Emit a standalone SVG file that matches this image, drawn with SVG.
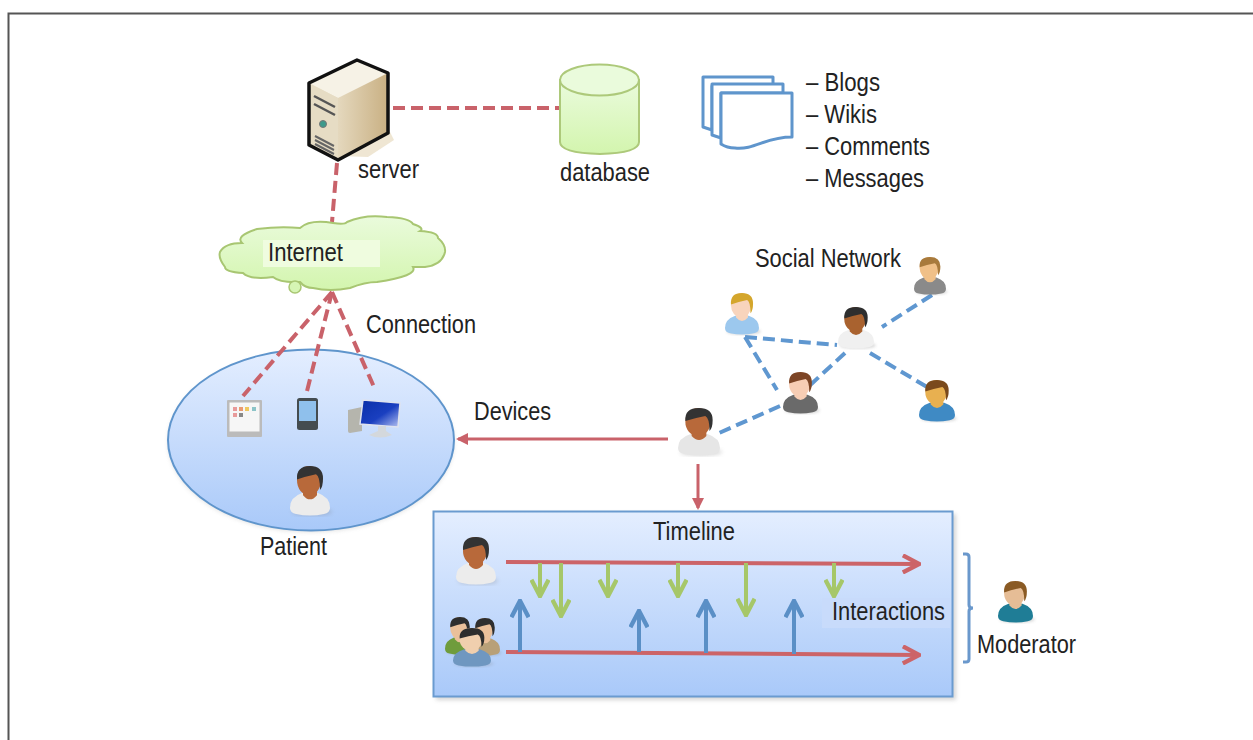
<svg xmlns="http://www.w3.org/2000/svg" width="1253" height="740" viewBox="0 0 1253 740">
<style>
text{font-family:"Liberation Sans",Arial,sans-serif;font-size:25px;fill:#222}
.rd{fill:none;stroke:#c9626a;stroke-width:4;stroke-dasharray:12 6}
.bd{fill:none;stroke:#5f97d0;stroke-width:4;stroke-dasharray:12 6}
.rs{fill:none;stroke:#c9626a;stroke-width:3}
.rt{fill:none;stroke:#cc6468;stroke-width:4}
.g{fill:none;stroke:#a6c769;stroke-width:4}
.b{fill:none;stroke:#5a8fc6;stroke-width:4}
.doc{fill:#fff;stroke:#5f95cc;stroke-width:3;stroke-linejoin:round}
.skin{fill:var(--skin)}.hair{fill:var(--hair)}.body{fill:var(--body)}
</style>
<defs>
<linearGradient id="blue" x1="0" y1="0" x2="0" y2="1"><stop offset="0" stop-color="#e4eeff"/><stop offset="1" stop-color="#a9c9f9"/></linearGradient>
<linearGradient id="green" x1="0" y1="0" x2="0" y2="1"><stop offset="0" stop-color="#eafbdc"/><stop offset="1" stop-color="#d3f5ae"/></linearGradient>
<linearGradient id="srv" x1="0" y1="0" x2="1" y2="0"><stop offset="0" stop-color="#f4efdf"/><stop offset="1" stop-color="#c9b083"/></linearGradient>
<linearGradient id="scr" x1="0" y1="0" x2="1" y2="1"><stop offset="0" stop-color="#0a2fa8"/><stop offset=".55" stop-color="#1a3fc0"/><stop offset="1" stop-color="#b8c4f2"/></linearGradient>
<filter id="sh" x="-10%" y="-10%" width="120%" height="120%"><feGaussianBlur stdDeviation="2"/></filter>
<symbol id="person" viewBox="0 0 40 48" preserveAspectRatio="none" overflow="visible">
<ellipse cx="22" cy="44" rx="20" ry="3.500" fill="#777" opacity=".3" filter="url(#sh)"/>
<path class="body" d="M0 40Q0 30 12 26L28 26Q40 30 40 40Q40 45 34 46Q20 49 6 46Q0 45 0 40Z"/>
<path class="skin" d="M13 20H27V28Q20 36 13 28Z"/>
<ellipse class="skin" cx="19" cy="14" rx="12" ry="14"/>
<path class="hair" d="M7 13Q6 0 20 0Q33 0 33 12Q33 20 30 23Q30 10 26 8Q16 10 7 13Z"/>
</symbol>
<marker id="ar" viewBox="0 0 14 14" refX="13" refY="7" markerWidth="5" markerHeight="5" orient="auto" markerUnits="strokeWidth"><path d="M1 1L12.500 7L1 13" fill="none" stroke="context-stroke" stroke-width="3"/></marker>
<marker id="ah" viewBox="0 0 12 12" refX="10" refY="6" markerWidth="4" markerHeight="4" orient="auto" markerUnits="strokeWidth"><path d="M0 0L12 6L0 12Z" fill="#c9626a"/></marker>
</defs>
<path d="M8.500 740V13.500H1253" fill="none" stroke="#555" stroke-width="2"/>

<g id="timeline-box">
<rect x="436" y="514" width="520" height="186" fill="#888" opacity=".35" filter="url(#sh)"/>
<rect x="433.500" y="511.500" width="519" height="185" fill="url(#blue)" stroke="#6a9bd0" stroke-width="2"/>
</g>
<g id="patient-ellipse">
<ellipse cx="311" cy="442" rx="143" ry="90" fill="#999" opacity=".3" filter="url(#sh)"/>
<ellipse cx="311" cy="440" rx="143" ry="90.500" fill="url(#blue)" stroke="#5f95cc" stroke-width="2"/>
</g>

<g id="connectors">
<path class="rd" d="M393 108H560"/>
<path class="rd" d="M337 163L332 222"/>
<path class="rd" d="M332 292L243 396"/>
<path class="rd" d="M332 292L306 395"/>
<path class="rd" d="M332 292L374 387"/>
<path class="rs" d="M668 439H458" marker-end="url(#ah)"/>
<path class="rs" d="M698 464V508" marker-end="url(#ah)"/>
<path class="bd" d="M932 295L882 327"/>
<path class="bd" d="M745 337L837 345"/>
<path class="bd" d="M745 337L777 390"/>
<path class="bd" d="M845 353L807 388"/>
<path class="bd" d="M870 353L927 387"/>
<path class="bd" d="M780 406L719 433"/>
<path class="rt" d="M506 562L920 564" marker-end="url(#ar)"/>
<path class="rt" d="M506 652L920 655" marker-end="url(#ar)"/>
<path class="g" d="M540 563V597" marker-end="url(#ar)"/>
<path class="g" d="M561 563V617" marker-end="url(#ar)"/>
<path class="g" d="M608 563V597" marker-end="url(#ar)"/>
<path class="g" d="M678 563V597" marker-end="url(#ar)"/>
<path class="g" d="M746 563V616" marker-end="url(#ar)"/>
<path class="g" d="M834 563V597" marker-end="url(#ar)"/>
<path class="b" d="M520 652V600" marker-end="url(#ar)"/>
<path class="b" d="M639 652V610" marker-end="url(#ar)"/>
<path class="b" d="M706 653V600" marker-end="url(#ar)"/>
<path class="b" d="M794 654V600" marker-end="url(#ar)"/>
<path d="M963 554H966Q969 554 969 557V605Q969 608 973 608Q969 608 969 611V659Q969 662 966 662H963" fill="none" stroke="#6a98cc" stroke-width="3"/>
</g>

<g id="server">
<path d="M388 128L338 156L368 157L394 140Z" fill="#e8dcc0" opacity=".7"/>
<path d="M357 60L388 73V133L338 160L309 145V83Z" fill="url(#srv)"/>
<path d="M309 83L338 98L388 73L357 60Z" fill="#f6f2e6"/>
<path d="M338 98V160L309 145V83Z" fill="#e6dcc4"/>
<path d="M357 60L388 73V133L338 160L309 145V83Z" fill="none" stroke="#111" stroke-width="3.500" stroke-linejoin="round"/>
<path d="M314 96L335 107M314 104L335 115" stroke="#555" stroke-width="2.500" fill="none"/>
<circle cx="323" cy="124" r="3.500" fill="#3d9a8c" stroke="#777"/>
<path d="M315 136L334 146M315 140L334 150M315 144L334 154" stroke="#666" stroke-width="2" fill="none"/>
<text x="358" y="178" textLength="61" lengthAdjust="spacingAndGlyphs">server</text>
</g>

<g id="database">
<path d="M560 80V142Q560 153 600 154Q639 153 639 142V80Z" fill="url(#green)" stroke="#adc97a" stroke-width="2"/>
<ellipse cx="599.500" cy="80" rx="39.500" ry="15.500" fill="#eafbdc" stroke="#adc97a" stroke-width="2"/>
<text x="560" y="181" textLength="90" lengthAdjust="spacingAndGlyphs">database</text>
</g>

<g id="documents">
<path class="doc" d="M703 77H773V86H712V130L703 127Z"/>
<path class="doc" d="M712 84H783V93H721V138L712 135Z"/>
<path class="doc" d="M721 93H792V137C765 137 755 150 735 148Q727 148 721 144Z"/>
<text x="806" y="91" textLength="74" lengthAdjust="spacingAndGlyphs">– Blogs</text>
<text x="806" y="123" textLength="71" lengthAdjust="spacingAndGlyphs">– Wikis</text>
<text x="806" y="155" textLength="124" lengthAdjust="spacingAndGlyphs">– Comments</text>
<text x="806" y="187" textLength="118" lengthAdjust="spacingAndGlyphs">– Messages</text>
</g>

<g id="internet">
<path d="M220 252Q225 243 242 243Q235 236 257 229Q280 226 300 228Q310 219 333 223Q345 225 347 222Q365 214 387 217Q410 218 413 224Q425 228 420 231Q438 232 438 238Q446 245 445 252Q442 265 425 267L413 267Q418 276 377 282Q365 282 350 288Q330 292 313 288Q305 288 300 282Q280 283 273 277Q250 280 243 273Q225 272 225 267Q218 258 220 252Z" fill="url(#green)" stroke="#a8c672" stroke-width="2"/>
<circle cx="295" cy="287" r="6" fill="#d6f5b4" stroke="#a8c672" stroke-width="1.500"/>
<rect x="263" y="240" width="117" height="27" fill="#effcdf"/>
<text x="268" y="261" textLength="75" lengthAdjust="spacingAndGlyphs">Internet</text>
</g>

<g id="connection-label"><text x="366" y="333" textLength="110" lengthAdjust="spacingAndGlyphs">Connection</text></g>
<g id="devices-label"><text x="474" y="420" textLength="77" lengthAdjust="spacingAndGlyphs">Devices</text></g>
<g id="network-label"><text x="755" y="267" textLength="146" lengthAdjust="spacingAndGlyphs">Social Network</text></g>

<g id="tablet">
<rect x="227" y="400" width="35" height="37" rx="1" fill="#bbb"/>
<rect x="229.500" y="402.500" width="30" height="29" fill="#f6f6f6"/>
<rect x="233" y="407" width="4" height="4" fill="#e89a9a"/><rect x="239" y="407" width="4" height="4" fill="#ea9a70"/><rect x="245" y="407" width="4" height="4" fill="#eec860"/><rect x="252" y="407" width="4" height="4" fill="#8cc4c8"/>
<rect x="233" y="413" width="4" height="4" fill="#e89a9a"/><rect x="239" y="413" width="4" height="4" fill="#888"/>
</g>
<g id="phone">
<rect x="297" y="398" width="21" height="32" rx="2.500" fill="#444c50"/>
<rect x="299" y="401" width="17" height="20" fill="#8fc0ec"/>
</g>
<g id="computer">
<path d="M348 410L362 407V431L350 433Q348 433 348 431Z" fill="#b5b5ad"/>
<path d="M363 400L400 403L398 427L360 424Z" fill="url(#scr)" stroke="#dfe3ee" stroke-width="1.500"/>
<path d="M378 426H386V431L392 435Q380 440 369 435L378 431Z" fill="#d4d8dc"/>
</g>

<g id="patient" style="--skin:#b8693a;--hair:#333;--body:#ececec"><use href="#person" x="290" y="466" width="40" height="50"/>
<text x="260" y="555" textLength="67" lengthAdjust="spacingAndGlyphs">Patient</text></g>
<g id="user-main" style="--skin:#b8693a;--hair:#333;--body:#e6e6e6"><use href="#person" x="678" y="408" width="42" height="48"/></g>
<g id="friend-blond" style="--skin:#f8d4bc;--hair:#d4a62c;--body:#9cc8ee"><use href="#person" x="725" y="293" width="34" height="42"/></g>
<g id="friend-woman1" style="--skin:#a9622f;--hair:#2e2e2e;--body:#f0f0f0"><use href="#person" x="838" y="307" width="36" height="42"/></g>
<g id="friend-woman2" style="--skin:#f7cdb4;--hair:#7d4526;--body:#6a6a6a"><use href="#person" x="783" y="372" width="35" height="42"/></g>
<g id="friend-man" style="--skin:#f0c088;--hair:#a87a3c;--body:#8a8a8a"><use href="#person" x="914" y="257" width="32" height="38"/></g>
<g id="friend-blue" style="--skin:#e8b050;--hair:#7a4a1c;--body:#3f8ac4"><use href="#person" x="919" y="380" width="36" height="42"/></g>
<g id="timeline-patient" style="--skin:#b8693a;--hair:#333;--body:#ececec"><use href="#person" x="456" y="537" width="40" height="48"/></g>
<g id="group-members">
<g style="--skin:#eac09a;--hair:#2e2e2e;--body:#6f9c3c"><use href="#person" x="445" y="617" width="30" height="38"/></g>
<g style="--skin:#eac09a;--hair:#2e2e2e;--body:#b8a078"><use href="#person" x="470" y="618" width="30" height="38"/></g>
<g style="--skin:#f0cfae;--hair:#2e2e2e;--body:#6f97c0"><use href="#person" x="453" y="628" width="38" height="39"/></g>
</g>
<g id="moderator" style="--skin:#e6bd96;--hair:#8a5a24;--body:#1f7d96"><use href="#person" x="998" y="581" width="35" height="42"/>
<text x="977" y="653" textLength="99" lengthAdjust="spacingAndGlyphs">Moderator</text></g>

<g id="timeline-label">
<text x="653" y="540" textLength="82" lengthAdjust="spacingAndGlyphs">Timeline</text>
</g>
<g id="interactions-label">
<rect x="822" y="598" width="128" height="30" fill="#c8dbfb"/>
<text x="832" y="620" textLength="113" lengthAdjust="spacingAndGlyphs">Interactions</text>
</g>
</svg>
